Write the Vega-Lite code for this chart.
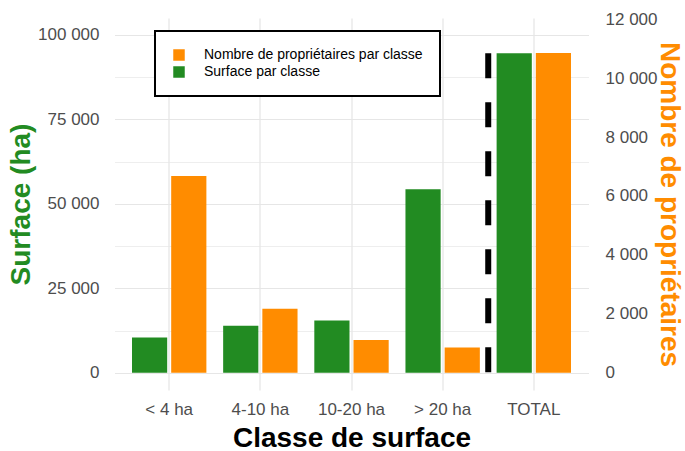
{
  "$schema": "https://vega.github.io/schema/vega-lite/v6.json",
  "width": 474,
  "height": 372,
  "autosize": "none",
  "padding": {"left": 114.5, "top": 18, "right": 96.5, "bottom": 61},
  "background": "white",
  "config": {
    "view": {"stroke": null},
    "font": "Liberation Sans"
  },
  "data": {
    "values": [
      {"classe": "< 4 ha", "serie": "Surface par classe", "valeur": 10460},
      {"classe": "4-10 ha", "serie": "Surface par classe", "valeur": 13900},
      {"classe": "10-20 ha", "serie": "Surface par classe", "valeur": 15500},
      {"classe": "> 20 ha", "serie": "Surface par classe", "valeur": 54300},
      {"classe": "TOTAL", "serie": "Surface par classe", "valeur": 94600},
      {"classe": "< 4 ha", "serie": "Nombre de propriétaires par classe", "valeur": 6680},
      {"classe": "4-10 ha", "serie": "Nombre de propriétaires par classe", "valeur": 2170},
      {"classe": "10-20 ha", "serie": "Nombre de propriétaires par classe", "valeur": 1110},
      {"classe": "> 20 ha", "serie": "Nombre de propriétaires par classe", "valeur": 860},
      {"classe": "TOTAL", "serie": "Nombre de propriétaires par classe", "valeur": 10850}
    ]
  },
  "encoding": {
    "x": {
      "field": "classe",
      "type": "nominal",
      "sort": ["< 4 ha", "4-10 ha", "10-20 ha", "> 20 ha", "TOTAL"],
      "scale": {"paddingInner": 0.184, "paddingOuter": 0.192},
      "axis": {
        "title": "Classe de surface",
        "labelAngle": 0,
        "labelFontSize": 17,
        "labelColor": "#4d4d4d",
        "labelPadding": 11.5,
        "ticks": false,
        "tickSize": 0,
        "domain": false,
        "grid": true,
        "gridColor": "#e6e6e6",
        "gridWidth": 1.3,
        "bandPosition": 0.5,
        "titleFontSize": 28,
        "titleFontWeight": "bold",
        "titleColor": "black",
        "titleBaseline": "alphabetic",
        "titleY": 56
      }
    }
  },
  "layer": [
    {
      "transform": [{"filter": "datum.serie == 'Surface par classe'"}],
      "mark": {"type": "bar"},
      "encoding": {
        "xOffset": {
          "field": "serie",
          "type": "nominal",
          "sort": ["Surface par classe", "Nombre de propriétaires par classe"],
          "scale": {"domain": ["Surface par classe", "Nombre de propriétaires par classe"], "paddingInner": 0.102, "paddingOuter": 0}
        },
        "y": {
          "field": "valeur",
          "type": "quantitative",
          "scale": {"domain": [-5100, 105000], "nice": false, "zero": false},
          "axis": {
            "orient": "left",
            "values": [0, 12500, 25000, 37500, 50000, 62500, 75000, 87500, 100000],
            "labelExpr": "datum.value % 25000 == 0 ? replace(format(datum.value, ',d'), /,/g, ' ') : ''",
            "grid": true,
            "gridColor": "#e6e6e6",
            "gridWidth": {"condition": {"test": "datum.value % 25000 != 0", "value": 0.7}, "value": 1.2},
            "ticks": false,
            "tickSize": 0,
            "domain": false,
            "labelPadding": 15.5,
            "labelFontSize": 17,
            "labelColor": "#4d4d4d",
            "title": "Surface (ha)",
            "titleColor": "#228B22",
            "titleFontSize": 28,
            "titleFontWeight": "bold",
            "titleAngle": -90,
            "titleX": -85,
            "titleY": 186,
            "titleBaseline": "alphabetic",
            "titleAlign": "center"
          }
        },
        "color": {
          "field": "serie",
          "type": "nominal",
          "scale": {"domain": ["Nombre de propriétaires par classe", "Surface par classe"], "range": ["#FF8C00", "#228B22"]},
          "legend": {
            "title": null,
            "orient": "none",
            "legendX": 40.5,
            "legendY": 13,
            "direction": "vertical",
            "padding": 17,
            "strokeColor": "black",
            "fillColor": "white",
            "symbolType": "square",
            "symbolSize": 132,
            "symbolStrokeWidth": 0,
            "labelFontSize": 14,
            "labelColor": "black",
            "labelOffset": 18,
            "labelLimit": 0,
            "rowPadding": 3,
            "encode": {"legend": {"update": {"strokeWidth": {"value": 2}}}}
          }
        }
      }
    },
    {
      "transform": [{"filter": "datum.serie == 'Nombre de propriétaires par classe'"}],
      "mark": {"type": "bar"},
      "encoding": {
        "xOffset": {
          "field": "serie",
          "type": "nominal",
          "sort": ["Surface par classe", "Nombre de propriétaires par classe"],
          "scale": {"domain": ["Surface par classe", "Nombre de propriétaires par classe"], "paddingInner": 0.102, "paddingOuter": 0}
        },
        "y": {
          "field": "valeur",
          "type": "quantitative",
          "scale": {"domain": [-585, 12040], "nice": false, "zero": false},
          "axis": {
            "orient": "right",
            "values": [0, 2000, 4000, 6000, 8000, 10000, 12000],
            "labelExpr": "replace(format(datum.value, ',d'), /,/g, ' ')",
            "grid": false,
            "ticks": false,
            "tickSize": 0,
            "domain": false,
            "labelPadding": 16.5,
            "labelFontSize": 17,
            "labelColor": "#4d4d4d",
            "title": "Nombre de propriétaires",
            "titleColor": "#FF8C00",
            "titleFontSize": 28,
            "titleFontWeight": "bold",
            "titleAngle": 90,
            "titleX": 71.5,
            "titleY": 186,
            "titleBaseline": "alphabetic",
            "titleAlign": "center"
          }
        },
        "color": {
          "field": "serie",
          "type": "nominal",
          "scale": {"domain": ["Nombre de propriétaires par classe", "Surface par classe"], "range": ["#FF8C00", "#228B22"]}
        }
      }
    },
    {
      "transform": [{"filter": "datum.classe == 'TOTAL' && datum.serie == 'Surface par classe'"}],
      "mark": {"type": "rule", "strokeDash": [25, 24], "strokeWidth": 6, "color": "black"},
      "encoding": {
        "x": {
          "field": "classe",
          "type": "nominal",
          "sort": ["< 4 ha", "4-10 ha", "10-20 ha", "> 20 ha", "TOTAL"],
          "bandPosition": -0.1127
        },
        "y": {
          "field": "valeur",
          "type": "quantitative",
          "scale": {"domain": [-5100, 105000], "nice": false, "zero": false},
          "axis": null
        },
        "y2": {"datum": 0}
      }
    }
  ],
  "resolve": {"scale": {"y": "independent"}}
}
